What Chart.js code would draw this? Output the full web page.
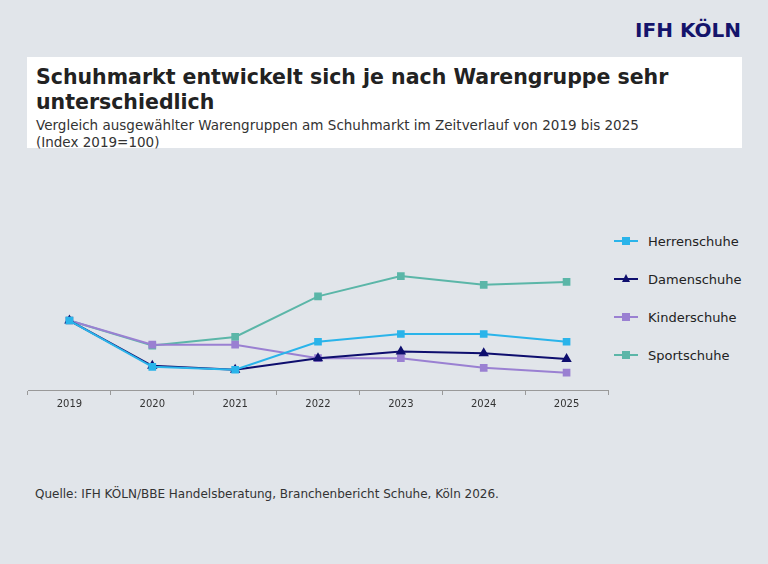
<!DOCTYPE html>
<html><head><meta charset="utf-8">
<script src="https://cdn.jsdelivr.net/npm/chart.js@4"></script>
<style>
body{margin:0;width:768px;height:564px;background:#e1e5ea;font-family:"DejaVu Sans",Verdana,sans-serif;position:relative;overflow:hidden}
#logo{position:absolute;right:27px;top:18px;font:bold 20px "DejaVu Sans";color:#14146b}
#box{position:absolute;left:27px;top:57px;width:715px;height:91px;background:#fff}
#box h1{margin:8px 0 0 9px;font-size:20.5px;line-height:25px;color:#222}
#box p{margin:2px 0 0 9px;font-size:13.5px;line-height:17px;color:#333}
#wrap{position:absolute;left:22px;top:218px;width:592px;height:195px}
#legend{position:absolute;left:614px;top:222px;font-size:13px;color:#222}
.li{height:38px;display:flex;align-items:center}
.mk{position:relative;width:24px;height:2px;margin-right:10px}
.mk span{position:absolute;left:8px;top:-3px;width:8px;height:8px}
#src{position:absolute;left:35px;top:487px;font-size:12px;color:#333}
</style></head><body>
<div id="logo">IFH KÖLN</div>
<div id="box"><h1>Schuhmarkt entwickelt sich je nach Warengruppe sehr unterschiedlich</h1>
<p>Vergleich ausgewählter Warengruppen am Schuhmarkt im Zeitverlauf von 2019 bis 2025<br>(Index 2019=100)</p></div>
<div id="wrap"><canvas id="c"></canvas></div>
<div id="legend"></div>
<div id="src">Quelle: IFH KÖLN/BBE Handelsberatung, Branchenbericht Schuhe, Köln 2026.</div>
<script>
const years = ['2019','2020','2021','2022','2023','2024','2025'];
const herren = [100, 76, 74.5, 89, 93, 93, 89];
const damen = [100, 76.5, 74.5, 80.5, 84, 83, 80];
const kinder = [100, 87.5, 87.5, 80.5, 80.5, 75.5, 73];
const sport = [100, 87, 91.5, 112.5, 123, 118.5, 120];

const series = [
  {label:'Herrenschuhe', data:herren, color:'#2ab4ea', style:'rect'},
  {label:'Damenschuhe', data:damen, color:'#0e0e6e', style:'triangle'},
  {label:'Kinderschuhe', data:kinder, color:'#9a80d2', style:'rect'},
  {label:'Sportschuhe', data:sport, color:'#5bb6a8', style:'rect'}
];

new Chart(document.getElementById('c'), {
  type:'line',
  data:{labels:years, datasets: series.map(s => ({
    label:s.label, data:s.data, borderColor:s.color, backgroundColor:s.color,
    borderWidth:2, pointStyle:s.style, pointRadius:4, tension:0
  }))},
  options:{
    responsive:true, maintainAspectRatio:false, animation:false,
    plugins:{legend:{display:false}, tooltip:{enabled:false}},
    scales:{
      x:{offset:true, grid:{offset:true, drawOnChartArea:false, tickLength:5, color:'#999'},
         border:{color:'#999'}, ticks:{color:'#333', font:{size:10, family:'DejaVu Sans'}}},
      y:{display:false, min:64, max:150}
    }
  }
});

const lg = document.getElementById('legend');
series.forEach(s => {
  const tri = s.style === 'triangle';
  lg.innerHTML += `<div class="li"><div class="mk" style="background:${s.color}"><span style="${tri
    ? `width:0;height:0;border-left:4px solid transparent;border-right:4px solid transparent;border-bottom:8px solid ${s.color};top:-4px`
    : `background:${s.color}`}"></span></div>${s.label}</div>`;
});
</script>
</body></html>
